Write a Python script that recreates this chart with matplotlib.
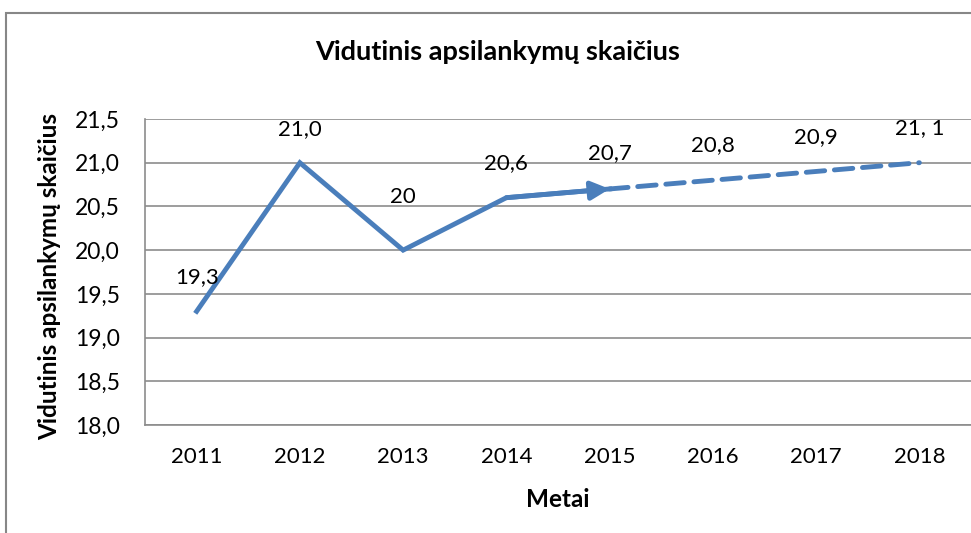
import numpy as np
import matplotlib.pyplot as plt
from matplotlib.patches import Rectangle

plt.rcParams['font.family'] = ['Lato', 'DejaVu Sans']

years = ['2011', '2012', '2013', '2014', '2015', '2016', '2017', '2018']
values = [19.3, 21.0, 20.0, 20.6, 20.7, 20.8, 20.9, 21.0]
labels = ['19,3', '21,0', '20', '20,6', '20,7', '20,8', '20,9', '21, 1']
label_offsets = [25, 24, 38, 25, 26, 25, 25, 25]  # points above the marker
y_ticks = [18.0, 18.5, 19.0, 19.5, 20.0, 20.5, 21.0, 21.5]

blue = '#4A7EBB'
grid_gray = '#8C8C8C'

fig = plt.figure(figsize=(9.71, 5.33), dpi=100)
ax = fig.add_axes([145 / 971, 1 - 425 / 533, 1 - 145 / 971, 306 / 533])

x = np.arange(len(years))

# solid part up to 2015, arrow head at the end
ax.plot(x[:5], values[:5], color=blue, lw=3.5, solid_joinstyle='miter', zorder=3)
ax.annotate('', xy=(x[4], values[4]), xytext=(x[3], values[3]),
            arrowprops=dict(arrowstyle='-|>,head_length=1.1,head_width=0.55',
                            color=blue, lw=3.5, shrinkA=0, shrinkB=0), zorder=4)
# forecast part, dashed
ax.plot(x[4:], values[4:], color=blue, lw=3.5, dashes=(3.8, 2.0),
        dash_capstyle='round', zorder=3)

for xi, v, lab, off in zip(x, values, labels, label_offsets):
    ax.annotate(lab, (xi, v), xytext=(0, off), textcoords='offset points',
                ha='center', va='center', fontsize=16)

ax.set_xlim(-0.5, len(years) - 0.5)
ax.set_ylim(18.0, 21.5)
ax.set_xticks(x)
ax.set_xticklabels(years, fontsize=16)
ax.set_yticks(y_ticks)
ax.set_yticklabels([f'{t:.1f}'.replace('.', ',') for t in y_ticks], fontsize=16.5)
ax.tick_params(axis='x', length=0, pad=16)
ax.tick_params(axis='y', length=0, pad=18)
ax.grid(axis='y', color=grid_gray, lw=1.2)
ax.set_axisbelow(True)
for s in ['top', 'right']:
    ax.spines[s].set_visible(False)
for s in ['left', 'bottom']:
    ax.spines[s].set_color(grid_gray)
    ax.spines[s].set_linewidth(1.2)

ax.set_xlabel('Metai', fontsize=17.5, fontweight='bold')
ax.xaxis.set_label_coords(0.5, -0.205)
ax.set_ylabel('Vidutinis apsilankymų skaičius', fontsize=17.5, fontweight='bold')
ax.yaxis.set_label_coords(-0.101, 0.485)
fig.text(498 / 971, 1 - 52 / 533, 'Vidutinis apsilankymų skaičius',
         ha='center', va='center', fontsize=19.5, fontweight='bold')

# outer chart frame
fig.patches.append(Rectangle((6 / 971, -0.1), 1.0, 1.1 - 13 / 533,
                             transform=fig.transFigure, fill=False,
                             edgecolor='#878787', lw=1.5))

fig.savefig('out.png', dpi=100)
